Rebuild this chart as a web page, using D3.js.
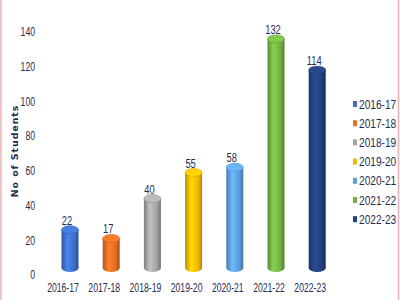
<!DOCTYPE html>
<html>
<head>
<meta charset="utf-8">
<script src="https://cdn.jsdelivr.net/npm/d3@7"></script>
<style>
  body { margin: 0; background: #fff; }
  svg { display: block; }
</style>
</head>
<body>
<div id="chart"></div>
<script>
// datos del grafico
const categories = ["2016-17", "2017-18", "2018-19", "2019-20", "2020-21", "2021-22", "2022-23"];
const students = [22, 17, 40, 55, 58, 132, 114];
const barColors = ["#3d6fc7", "#e46c24", "#a3a3a3", "#f5b800", "#5d9de0", "#72b043", "#22407a"];
const yTicks = [0, 20, 40, 60, 80, 100, 120, 140];

const W = 400, H = 300;
const depth = 7;        // desplazamiento 3D
const barW = 17, ry = 4;
const textColor = "#1f2d52";
const narrow = "scale(0.72,1)"; // letra angosta como en la imagen

const svg = d3.select("#chart").append("svg")
    .attr("width", W)
    .attr("height", H);

svg.append("rect").attr("width", W).attr("height", H).attr("fill", "#fff");

// bordes rosados
svg.append("line").attr("x1", 1).attr("x2", 1).attr("y1", 0).attr("y2", H)
    .attr("stroke", "#e6b3b8").attr("stroke-width", 1.5);
svg.append("line").attr("x1", 398.5).attr("x2", 398.5).attr("y1", 0).attr("y2", H)
    .attr("stroke", "#e6b3b8").attr("stroke-width", 1.5);

const x = d3.scaleBand().domain(categories).range([42.4, 330.8]);
const y = d3.scaleLinear().domain([0, 140]).range([275, 32]);

// gradientes para los cilindros
const defs = svg.append("defs");
barColors.forEach((c, i) => {
    const g = defs.append("linearGradient").attr("id", "grad" + i)
        .attr("x1", "0%").attr("x2", "100%").attr("y1", "0%").attr("y2", "0%");
    g.append("stop").attr("offset", "0%").attr("stop-color", d3.color(c).darker(0.7));
    g.append("stop").attr("offset", "35%").attr("stop-color", d3.color(c).brighter(0.5));
    g.append("stop").attr("offset", "75%").attr("stop-color", c);
    g.append("stop").attr("offset", "100%").attr("stop-color", d3.color(c).darker(0.9));
});

// ejes
const xAxis = svg.append("g")
    .attr("transform", "translate(0,280)")
    .call(d3.axisBottom(x).tickSize(0).tickPadding(3));
xAxis.select(".domain").remove();
xAxis.selectAll("text")
    .attr("fill", textColor)
    .attr("font-family", "'Liberation Sans', Arial, sans-serif")
    .attr("font-size", 12)
    .attr("transform", narrow);

const yAxis = svg.append("g")
    .attr("transform", "translate(35,0)")
    .call(d3.axisLeft(y).tickValues(yTicks).tickSize(0).tickPadding(0));
yAxis.select(".domain").remove();
yAxis.selectAll("text")
    .attr("fill", textColor)
    .attr("font-family", "'Liberation Sans', Arial, sans-serif")
    .attr("font-size", 12)
    .attr("transform", narrow);

// titulo del eje y
svg.append("text")
    .attr("transform", "translate(18,151) rotate(-90)")
    .attr("text-anchor", "middle")
    .attr("font-family", "'DejaVu Sans', sans-serif")
    .attr("font-weight", "bold")
    .attr("font-size", 9.5)
    .attr("letter-spacing", 0.9)
    .attr("fill", textColor)
    .text("No of Students");

// cilindros
const bars = svg.append("g").selectAll("g")
    .data(categories)
    .join("g");

bars.each(function (c, i) {
    const g = d3.select(this);
    const cx = x(c) + x.bandwidth() / 2 + depth;
    const yTop = y(students[i]) - depth;
    const yBase = y(0) - depth;
    g.append("ellipse")
        .attr("cx", cx).attr("cy", yBase).attr("rx", barW / 2).attr("ry", ry)
        .attr("fill", `url(#grad${i})`);
    g.append("rect")
        .attr("x", cx - barW / 2).attr("y", yTop)
        .attr("width", barW).attr("height", yBase - yTop)
        .attr("fill", `url(#grad${i})`);
    g.append("ellipse")
        .attr("cx", cx).attr("cy", yTop).attr("rx", barW / 2).attr("ry", ry)
        .attr("fill", d3.color(barColors[i]).brighter(0.4))
        .attr("stroke", d3.color(barColors[i]).darker(0.3))
        .attr("stroke-width", 0.6);
    g.append("text")
        .attr("transform", `translate(${cx - 3},${yTop - 5}) ${narrow}`)
        .attr("text-anchor", "middle")
        .attr("font-family", "'Liberation Sans', Arial, sans-serif")
        .attr("font-size", 13)
        .attr("fill", textColor)
        .text(students[i]);
});

// leyenda
const legend = svg.append("g").selectAll("g")
    .data(categories)
    .join("g")
    .attr("transform", (d, i) => `translate(353,${104 + i * 19.2})`);

legend.append("rect")
    .attr("x", 0).attr("y", -3)
    .attr("width", 4).attr("height", 6)
    .attr("fill", (d, i) => barColors[i]);

legend.append("text")
    .attr("transform", `translate(6,0) scale(0.78,1)`)
    .attr("dy", "0.35em")
    .attr("font-family", "'Liberation Sans', Arial, sans-serif")
    .attr("font-size", 13)
    .attr("fill", textColor)
    .text(d => d);
</script>
</body>
</html>
